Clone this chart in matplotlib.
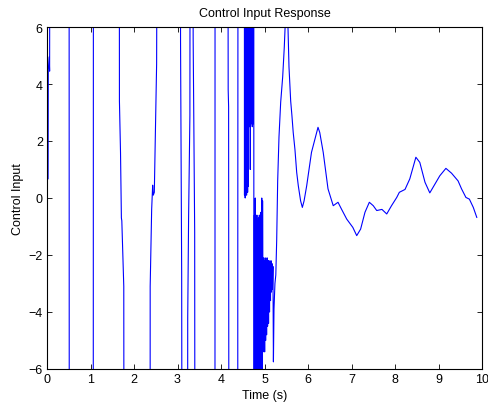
import numpy as np
import matplotlib
matplotlib.use('Agg')
import matplotlib.pyplot as plt

# Control input samples (values past +/-6 are clipped by the axes)
t_start = [0.0, 0.025, 0.03, 0.05, 0.06, 0.08,
           0.505, 0.515,
           1.06, 1.07,
           1.655, 1.665, 1.69, 1.70, 1.71, 1.72, 1.765, 1.78,
           2.368, 2.372, 2.406, 2.429, 2.444, 2.467, 2.483, 2.52, 2.567,
           3.055, 3.07, 3.096, 3.12,
           3.225, 3.235, 3.255, 3.285, 3.30,
           3.34, 3.36, 3.395, 3.41,
           3.86, 3.862, 3.866,
           4.145, 4.165, 4.175, 4.19,
           4.384, 4.386, 4.398, 4.53]
u_start = [0.67, 0.67, 4.5, 4.95, 4.45, 30,
           30, -30,
           -30, 30,
           30, 3.4, 1.6, 0.3, -0.7, -0.8, -3.1, -30,
           -30, -3.1, -0.4, 0.45, 0.1, 0.2, 1.5, 4.7, 30,
           30, 5.5, -2.7, -30,
           -30, -4.2, -0.7, 2.9, 30,
           30, 5.6, -1.2, -30,
           -30, -0.2, 30,
           30, 3.8, 3.2, -30,
           -30, -2.2, 30, 30]

# chattering bursts around t = 4.5 .. 5.2 s
burst_a = [20, 0.1, 20, 0.3, 20, 0.0, 20, 0.4, 20, 0.2, 20, 0.5,
           20, 0.1, 20, 0.3, 20, 0.6, 20, 0.2, 20, 0.4, 20, 0.8]
burst_b = [20, 2.6, 20, 3.0, 20, 2.7, 20, 2.5, 20, 1.0, 20, 2.8, 20, 2.6,
           20, 3.1, 20, 2.7, 20, 2.5, 20, 2.9, 20, 2.6, 20, 2.8, 20, -0.7]
burst_c = [-20, -0.6, -20, 0.0, -20, -0.7, -20, -0.6, -20, -0.8, -20, -0.7,
           -20, -0.6, -20, -0.7, -20, -0.5, -20, 0.0, -20, -0.1, -5.4]
burst_d = [-2.1, -5.3, -2.2, -5.4, -2.1, -5.0, -2.2, -4.8, -2.1, -4.5, -2.2,
           -4.4, -2.2, -4.0, -2.3, -3.6, -2.2, -3.3, -2.3, -3.2, -2.4, -5.75]
burst_spans = [(4.536, 4.628), (4.632, 4.755), (4.76, 4.965), (4.97, 5.205)]

t_tail = [5.218, 5.24, 5.26, 5.28, 5.303, 5.333, 5.372, 5.418, 5.455, 5.49, 5.51,
          5.533, 5.563, 5.602, 5.63, 5.66, 5.70, 5.74, 5.777, 5.83, 5.87, 5.91,
          5.97, 6.08, 6.23, 6.27, 6.35, 6.46, 6.58, 6.69, 6.77, 6.89, 7.03, 7.12,
          7.21, 7.31, 7.41, 7.50, 7.58, 7.70, 7.81, 7.92, 8.04, 8.10, 8.23, 8.34,
          8.48, 8.57, 8.69, 8.80, 8.92, 9.03, 9.17, 9.30, 9.45, 9.53, 9.63, 9.71,
          9.80, 9.88]
u_tail = [-3.9, -3.0, -2.7, -1.5, 0.6, 2.14, 3.36, 4.25, 5.3, 6.6, 7.0,
          6.4, 4.6, 3.4, 2.9, 2.3, 1.7, 0.9, 0.43, -0.1, -0.33, -0.1,
          0.43, 1.6, 2.48, 2.3, 1.6, 0.32, -0.27, -0.15, -0.39, -0.74, -1.03, -1.32,
          -1.09, -0.5, -0.15, -0.27, -0.44, -0.4, -0.56, -0.27, 0.02, 0.2, 0.3, 0.67,
          1.43, 1.25, 0.55, 0.18, 0.49, 0.78, 1.04, 0.87, 0.6, 0.32, 0.02, -0.04,
          -0.33, -0.68]

t_all = list(t_start)
u_all = list(u_start)
for vals, (t0, t1) in zip([burst_a, burst_b, burst_c, burst_d], burst_spans):
    t_all += list(np.linspace(t0, t1, len(vals)))
    u_all += vals
t_all += t_tail
u_all += u_tail

plt.rcParams['font.family'] = ['Liberation Sans', 'DejaVu Sans']
plt.rcParams['font.size'] = 9

fig = plt.figure(figsize=(4.88, 4.10), dpi=100)
ax = fig.add_axes([47/488, 40/410, 435/488, 342/410])
ax.plot(t_all, u_all, color=(0, 0, 1), linewidth=0.8)

ax.set_xlim(0, 10)
ax.set_ylim(-6, 6)
ax.set_xticks(range(0, 11))
ax.set_yticks(range(-6, 7, 2))
ax.tick_params(direction='in', top=True, right=True, length=3.5, width=0.6, pad=3)
for s in ax.spines.values():
    s.set_linewidth(0.8)

ax.set_title('Control Input Response', fontsize=9, pad=8)
ax.set_xlabel('Time (s)', labelpad=3)
ax.set_ylabel('Control Input', labelpad=3)

fig.savefig('out.png', dpi=100)
